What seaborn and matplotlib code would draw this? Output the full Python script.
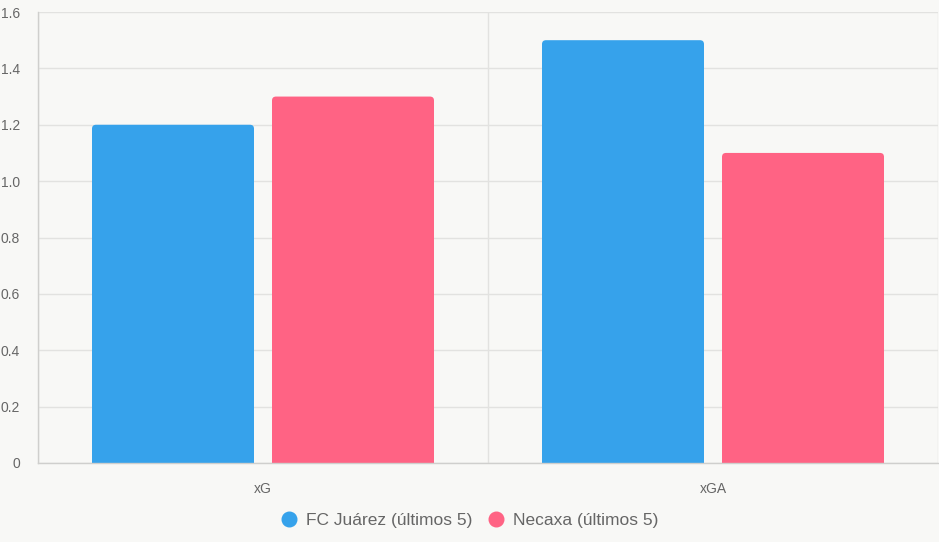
import pandas as pd
import numpy as np
import matplotlib
matplotlib.use("Agg")
import matplotlib.pyplot as plt
from matplotlib.patches import FancyBboxPatch
from matplotlib.lines import Line2D
import seaborn as sns

metrics = ["xG", "xGA"]
teams = ["FC Juárez (últimos 5)", "Necaxa (últimos 5)"]
juarez_values = [1.2, 1.5]
necaxa_values = [1.3, 1.1]
team_colors = ["#36A2EB", "#FF6384"]
y_ticks = [0, 0.2, 0.4, 0.6, 0.8, 1.0, 1.2, 1.4, 1.6]
y_labels = ["0", "0.2", "0.4", "0.6", "0.8", "1.0", "1.2", "1.4", "1.6"]

df = pd.DataFrame({
    "metric": metrics * 2,
    "team": [teams[0]] * 2 + [teams[1]] * 2,
    "value": juarez_values + necaxa_values,
})

bg = "#F8F8F6"
sns.set_style("white")
plt.rcParams["font.family"] = ["Liberation Sans", "DejaVu Sans"]

fig = plt.figure(figsize=(9.39, 5.42), dpi=100, facecolor=bg)
ax = fig.add_axes([38 / 939, 79 / 542, 900 / 939, 451 / 542])
ax.set_facecolor(bg)

sns.barplot(data=df, x="metric", y="value", hue="team", order=metrics, hue_order=teams,
            palette=team_colors, width=0.8, gap=0.1, saturation=1, legend=False, ax=ax)

ax.set_xlim(-0.5, 1.5)
ax.set_ylim(0, 1.6)

# swap plain rectangles for bars with rounded tops
x_px = 900 / 2.0
y_px = 451 / 1.6
r = 4 / x_px
for p in list(ax.patches):
    x0, w, h = p.get_x(), p.get_width(), p.get_height()
    fc = p.get_facecolor()
    p.remove()
    extra = 0.05
    fb = FancyBboxPatch((x0, -extra), w, h + extra,
                        boxstyle=f"round,pad=0,rounding_size={r}",
                        mutation_aspect=x_px / y_px,
                        facecolor=fc, edgecolor="none", zorder=2)
    ax.add_patch(fb)

grid_c = "#E2E2E0"
axis_c = "#CFCFCD"
ax.set_yticks(y_ticks)
ax.set_yticklabels(y_labels)
ax.yaxis.grid(True, color=grid_c, linewidth=1)
ax.set_xticks([0, 1])
ax.set_xticks([-0.5, 0.5, 1.5], minor=True)
ax.xaxis.grid(True, which="minor", color=grid_c, linewidth=1)
ax.set_axisbelow(True)
ax.tick_params(axis="x", which="major", length=0, pad=14, labelsize=10, labelcolor="#666666")
ax.tick_params(axis="x", which="minor", length=8, color=grid_c, width=1)
ax.tick_params(axis="y", length=8, color=grid_c, width=1, pad=5, labelsize=10, labelcolor="#666666")
ax.set_xlabel("")
ax.set_ylabel("")

for side in ["top", "right"]:
    ax.spines[side].set_visible(False)
for side in ["left", "bottom"]:
    ax.spines[side].set_color(axis_c)
    ax.spines[side].set_linewidth(1)

handles = [Line2D([0], [0], marker="o", linestyle="", markersize=10.5,
                  markerfacecolor=c, markeredgecolor=c) for c in team_colors]
fig.legend(handles, teams, loc="center", bbox_to_anchor=(0.5, 22 / 542), ncol=2,
           frameon=False, fontsize=12.5, labelcolor="#666666", handletextpad=0.45,
           columnspacing=0.9, handlelength=1.0)

fig.savefig("out.png", dpi=100, facecolor=bg)
